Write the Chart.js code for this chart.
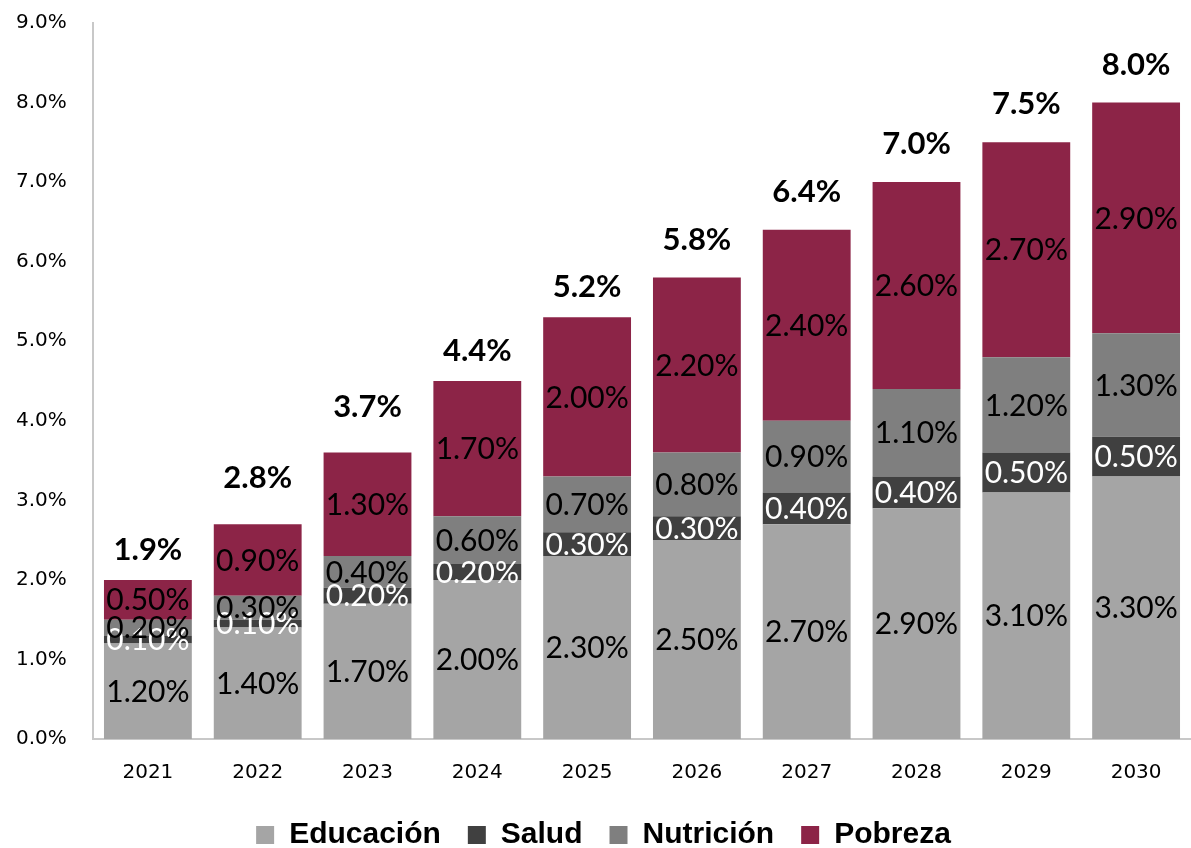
<!DOCTYPE html>
<html>
<head>
<meta charset="utf-8">
<script src="https://cdn.jsdelivr.net/npm/chart.js@4/dist/chart.umd.min.js"></script>
<style>
  html, body { margin: 0; padding: 0; background: #fff; }
  #chart { display: block; }
</style>
</head>
<body>
<canvas id="chart" width="1191" height="848"></canvas>
<script>
const years = ["2021", "2022", "2023", "2024", "2025", "2026", "2027", "2028", "2029", "2030"];
const educacion = [1.2, 1.4, 1.7, 2.0, 2.3, 2.5, 2.7, 2.9, 3.1, 3.3];
const salud = [0.1, 0.1, 0.2, 0.2, 0.3, 0.3, 0.4, 0.4, 0.5, 0.5];
const nutricion = [0.2, 0.3, 0.4, 0.6, 0.7, 0.8, 0.9, 1.1, 1.2, 1.3];
const pobreza = [0.5, 0.9, 1.3, 1.7, 2.0, 2.2, 2.4, 2.6, 2.7, 2.9];
const totals = [1.9, 2.8, 3.7, 4.4, 5.2, 5.8, 6.4, 7.0, 7.5, 8.0];

const labelFont = "30px Lato, 'Open Sans', sans-serif";
const totalFont = "bold 31px Lato, 'Open Sans', sans-serif";

// segment values in the middle of each piece, totals above the bars
const barLabels = {
  id: "barLabels",
  afterDatasetsDraw(chart) {
    const ctx = chart.ctx;
    ctx.save();
    ctx.textAlign = "center";
    ctx.textBaseline = "middle";
    ctx.font = labelFont;

    chart.data.datasets.forEach((dataset, i) => {
      const meta = chart.getDatasetMeta(i);
      ctx.fillStyle = dataset.labelColor;
      meta.data.forEach((bar, j) => {
        const mid = (bar.y + bar.base) / 2;
        ctx.fillText(dataset.data[j].toFixed(2) + "%", bar.x, mid + 1);
      });
    });

    const yScale = chart.scales.y;
    const first = chart.getDatasetMeta(0);
    ctx.font = totalFont;
    ctx.fillStyle = "#000";
    totals.forEach((total, j) => {
      const y = yScale.getPixelForValue(total) - 38;
      ctx.fillText(total.toFixed(1) + "%", first.data[j].x, y);
    });
    ctx.restore();
  },
};

new Chart(document.getElementById("chart"), {
  type: "bar",
  data: {
    labels: years,
    datasets: [
      { label: "Educación", data: educacion, backgroundColor: "#a5a5a5", labelColor: "#000" },
      { label: "Salud", data: salud, backgroundColor: "#404040", labelColor: "#fff" },
      { label: "Nutrición", data: nutricion, backgroundColor: "#7f7f7f", labelColor: "#000" },
      { label: "Pobreza", data: pobreza, backgroundColor: "#8c2447", labelColor: "#000" },
    ],
  },
  options: {
    responsive: false,
    animation: false,
    devicePixelRatio: 1,
    categoryPercentage: 1,
    barPercentage: 0.8,
    layout: {
      padding: { top: 23, right: 0, left: 16, bottom: -12 },
    },
    plugins: {
      tooltip: { enabled: false },
      legend: {
        position: "bottom",
        labels: {
          color: "#000",
          font: { family: "'Liberation Sans Narrow', 'Liberation Sans', sans-serif", size: 30, weight: "bold" },
          boxWidth: 18,
          boxHeight: 18,
          padding: 27,
        },
      },
    },
    scales: {
      x: {
        stacked: true,
        grid: { display: false, drawTicks: false },
        border: { display: true, color: "#c8c8c8", width: 2 },
        ticks: {
          color: "#000",
          font: { family: "'DejaVu Sans', sans-serif", size: 20 },
          padding: 22,
        },
        afterFit(scale) {
          scale.height = scale.height - 14;
        },
      },
      y: {
        stacked: true,
        min: 0,
        max: 9,
        grid: { display: false, drawTicks: false },
        border: { display: true, color: "#c8c8c8", width: 2 },
        ticks: {
          stepSize: 1,
          color: "#000",
          font: { family: "'DejaVu Sans', sans-serif", size: 20 },
          padding: 0,
          crossAlign: "far",
          callback: (value) => value.toFixed(1) + "%",
        },
        afterFit(scale) {
          scale.width = 77;
        },
      },
    },
  },
  plugins: [barLabels],
});
</script>
</body>
</html>
